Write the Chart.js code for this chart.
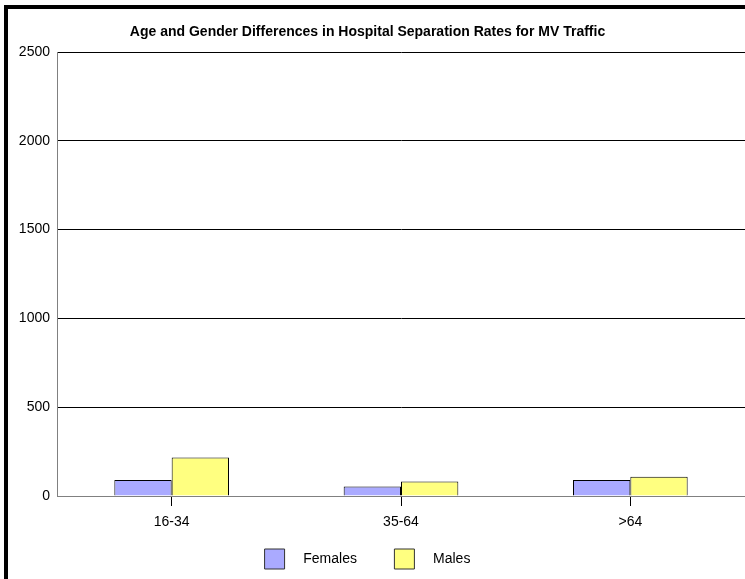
<!DOCTYPE html>
<html>
<head>
<meta charset="utf-8">
<script src="https://cdn.jsdelivr.net/npm/chart.js@4.4.1/dist/chart.umd.min.js"></script>
<style>
  html, body { margin: 0; padding: 0; background: #fff; overflow: hidden; }
  #frame { position: absolute; left: 4px; top: 5px; width: 900px; height: 800px; border-left: 4px solid #000; border-top: 4px solid #000; }
  #graf { position: absolute; left: -10px; top: 0; }
</style>
</head>
<body>
<div id="frame"></div>
<canvas id="graf" width="755" height="579"></canvas>
<script>
const ageGroups = ["16-34", "35-64", ">64"];
const females = [90, 53, 90];
const males = [217, 81, 109];
const yTicks = [0, 500, 1000, 1500, 2000, 2500];

const fuente = "'Liberation Sans', Arial, sans-serif";

new Chart(document.getElementById("graf"), {
  type: 'bar',
  data: {
    labels: ageGroups,
    datasets: [
      { label: 'Females', data: females, backgroundColor: '#aaaaff', borderColor: '#000', borderWidth: 1 },
      { label: 'Males', data: males, backgroundColor: '#ffff80', borderColor: '#000', borderWidth: 1 }
    ]
  },
  options: {
    responsive: false,
    animation: false,
    devicePixelRatio: 1,
    layout: { padding: 0 },
    datasets: { bar: { categoryPercentage: 0.5, barPercentage: 1 } },
    scales: {
      x: {
        grid: { drawOnChartArea: false, offset: false, color: '#000', tickLength: 10 },
        border: { color: '#808080' },
        ticks: { color: '#000', padding: 8, font: { family: fuente, size: 14 } },
        afterFit: s => { s.height = 35; }
      },
      y: {
        min: 0, max: 2500,
        afterBuildTicks: s => { s.ticks = yTicks.map(v => ({ value: v })); },
        grid: { color: '#000', drawTicks: false },
        border: { color: '#808080' },
        ticks: { color: '#000', padding: 7, font: { family: fuente, size: 14 }, callback: v => String(v) },
        afterFit: s => { s.width = 67; }
      }
    },
    plugins: {
      title: {
        display: true,
        text: 'Age and Gender Differences in Hospital Separation Rates for MV Traffic',
        color: '#000',
        font: { family: fuente, size: 14, weight: 'bold' },
        padding: { top: 23.6, bottom: 11.6 }
      },
      legend: {
        position: 'bottom',
        maxHeight: 50,
        labels: {
          color: '#000',
          boxWidth: 20, boxHeight: 20, padding: 18,
          font: { family: fuente, size: 14 },
          generateLabels: ch => ch.data.datasets.map((d, i) => ({
            text: '   ' + d.label + (i === 0 ? '     ' : ''),
            fillStyle: d.backgroundColor,
            strokeStyle: '#333',
            lineWidth: 1,
            datasetIndex: i,
            fontColor: '#000'
          }))
        }
      },
      tooltip: { enabled: false }
    }
  }
});
</script>
</body>
</html>
